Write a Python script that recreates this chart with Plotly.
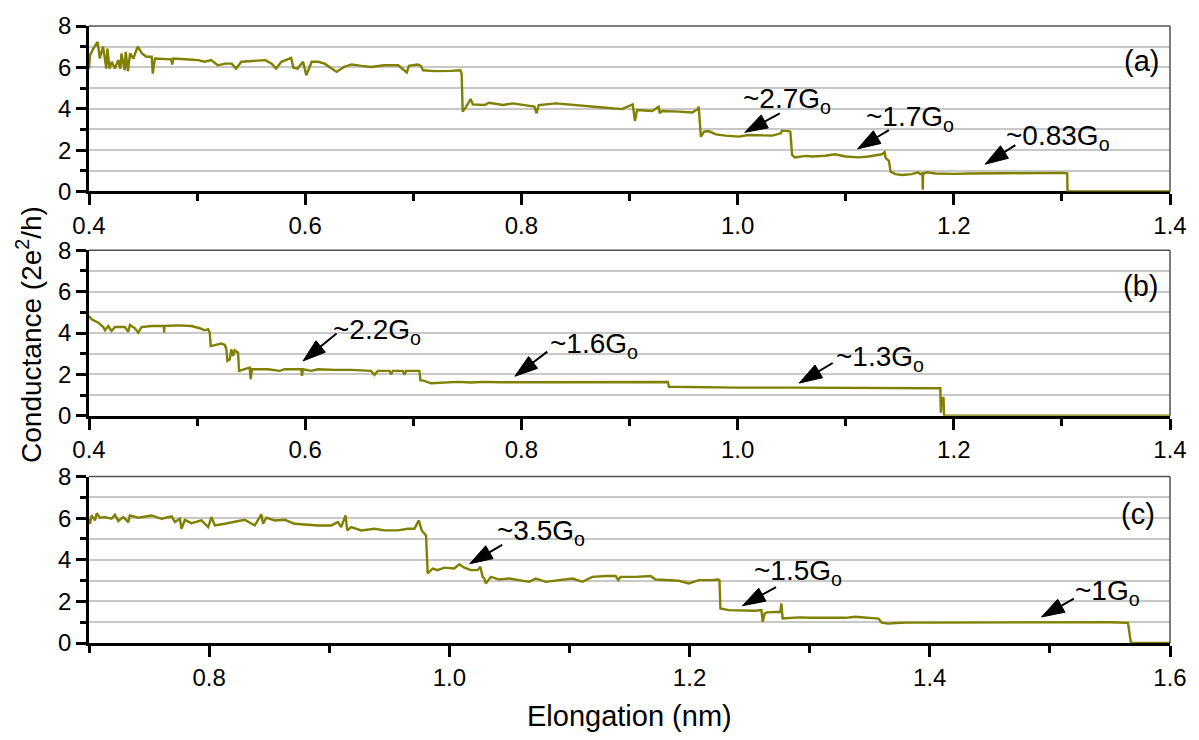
import plotly.graph_objects as go

# ---------------- data ----------------
A_x = [0.400, 0.401, 0.404, 0.408, 0.410, 0.413, 0.416, 0.417, 0.419, 0.421, 0.424, 0.427, 0.429, 0.430,
       0.433, 0.434, 0.436, 0.438, 0.441, 0.445, 0.449, 0.453, 0.458, 0.459, 0.461, 0.476, 0.477, 0.478,
       0.489, 0.501, 0.507, 0.513, 0.519, 0.526, 0.532, 0.536, 0.541, 0.550, 0.563, 0.569, 0.573, 0.578,
       0.587, 0.589, 0.593, 0.598, 0.601, 0.606, 0.612, 0.618, 0.624, 0.629, 0.636, 0.643, 0.652, 0.661,
       0.673, 0.686, 0.694, 0.696, 0.704, 0.707, 0.709, 0.720, 0.735, 0.7435, 0.7447, 0.7457, 0.749,
       0.753, 0.755, 0.766, 0.770, 0.783, 0.792, 0.804, 0.812, 0.814, 0.816, 0.832, 0.847, 0.863, 0.878,
       0.893, 0.903, 0.905, 0.907, 0.921, 0.924, 0.927, 0.928, 0.930, 0.946, 0.958, 0.963, 0.964, 0.966,
       0.969, 0.973, 0.980, 0.989, 1.001, 1.010, 1.023, 1.032, 1.040, 1.041, 1.047, 1.0488, 1.0504, 1.053,
       1.063, 1.069, 1.081, 1.090, 1.100, 1.112, 1.121, 1.127, 1.1335, 1.136, 1.137, 1.140, 1.1415, 1.146,
       1.152, 1.161, 1.167, 1.169, 1.1710, 1.1713, 1.1716, 1.175, 1.183, 1.201, 1.214, 1.244, 1.275, 1.300,
       1.3049, 1.3052, 1.400]
A_y = [5.94, 6.59, 6.91, 7.23, 6.43, 7.00, 5.94, 6.91, 5.94, 6.27, 5.94, 6.35, 5.94, 6.67,
       5.86, 6.75, 5.82, 6.67, 6.43, 7.00, 6.67, 6.51, 6.51, 5.70, 6.43, 6.39, 6.14, 6.43,
       6.39, 6.35, 6.27, 6.35, 6.10, 6.18, 6.18, 5.94, 6.27, 6.30, 6.35, 6.18, 5.94, 6.27,
       6.46, 5.98, 5.94, 6.27, 5.62, 6.27, 6.27, 6.18, 5.94, 5.78, 6.02, 6.14, 6.07, 6.02,
       6.10, 6.10, 5.75, 6.07, 6.14, 6.07, 5.86, 5.82, 5.83, 5.86, 5.70, 3.86, 4.10,
       4.47, 4.21, 4.18, 4.29, 4.18, 4.26, 4.18, 4.10, 3.78, 4.18, 4.26, 4.18, 4.10, 4.05,
       3.98, 4.21, 3.41, 3.94, 3.89, 3.98, 4.10, 3.78, 3.89, 3.86, 3.82, 3.98, 4.10, 2.65,
       2.89, 2.92, 2.76, 2.70, 2.65, 2.73, 2.73, 2.70, 2.81, 2.94, 2.92, 2.89, 1.77, 1.64,
       1.72, 1.69, 1.73, 1.80, 1.69, 1.65, 1.69, 1.74, 1.80, 1.90, 1.61, 1.48, 0.96, 0.84,
       0.80, 0.84, 0.93, 0.84, 0.88, 0.08, 0.84, 0.93, 0.87, 0.85, 0.87, 0.88, 0.90, 0.90,
       0.88, 0.00, 0.00]

B_x = [0.400, 0.4025, 0.4086, 0.4132, 0.4148, 0.4178, 0.4209, 0.4240, 0.4332, 0.4363, 0.4379, 0.4425,
       0.4455, 0.4486, 0.4579, 0.4692, 0.4695, 0.4698, 0.4825, 0.4948, 0.5025, 0.5071, 0.5102, 0.5117,
       0.5126, 0.5179, 0.5225, 0.5256, 0.5271, 0.5280, 0.5302, 0.5317, 0.5333, 0.5348, 0.5379, 0.5388,
       0.5440, 0.5486, 0.5496, 0.5508, 0.5656, 0.5764, 0.5810, 0.5964, 0.5970, 0.5979, 0.6056, 0.6118,
       0.6271, 0.6425, 0.6608, 0.6641, 0.6671, 0.6779, 0.6795, 0.6810, 0.6903, 0.6918, 0.6933, 0.7041,
       0.7056, 0.7066, 0.7102, 0.7164, 0.7287, 0.7410, 0.7533, 0.7656, 0.780, 0.820, 0.860, 0.900,
       0.9355, 0.9365, 0.960, 1.000, 1.050, 1.100, 1.150, 1.1875, 1.1880, 1.1890, 1.1905, 1.1910, 1.400]
B_y = [4.82, 4.66, 4.50, 4.29, 4.13, 4.34, 4.10, 4.29, 4.29, 4.06, 4.39, 4.23,
       4.02, 4.29, 4.34, 4.34, 4.02, 4.34, 4.37, 4.34, 4.23, 4.13, 4.18, 4.02,
       3.37, 3.45, 3.49, 3.42, 3.21, 2.65, 2.73, 3.21, 2.89, 3.17, 3.05, 2.17,
       2.25, 2.33, 1.77, 2.25, 2.25, 2.17, 2.25, 2.25, 1.93, 2.25, 2.17, 2.25,
       2.22, 2.22, 2.17, 1.98, 2.17, 2.17, 2.01, 2.17, 2.17, 1.98, 2.17, 2.20,
       2.17, 1.72, 1.69, 1.57, 1.61, 1.64, 1.61, 1.64, 1.62, 1.62, 1.63, 1.62,
       1.63, 1.40, 1.38, 1.36, 1.36, 1.35, 1.34, 1.33, 0.15, 0.85, 0.85, 0.00, 0.00]

C_x = [0.7000, 0.7008, 0.7022, 0.7050, 0.7064, 0.7091, 0.7132, 0.7188, 0.7216, 0.7244, 0.7285, 0.7327,
       0.7340, 0.7410, 0.7521, 0.7604, 0.7688, 0.7715, 0.7757, 0.7770, 0.7798, 0.7853, 0.7936, 0.7992,
       0.8020, 0.8048, 0.8130, 0.8213, 0.8296, 0.8380, 0.8435, 0.8449, 0.8477, 0.8546, 0.8630, 0.8712,
       0.8795, 0.8907, 0.9017, 0.9072, 0.9100, 0.9136, 0.9150, 0.9183, 0.9266, 0.9377, 0.9460, 0.9571,
       0.9654, 0.9709, 0.9745, 0.9770, 0.9806, 0.9820, 0.9861, 0.9903, 0.9958, 1.0041, 1.0083, 1.0125,
       1.0180, 1.0235, 1.0258, 1.0277, 1.0291, 1.0304, 1.0346, 1.0415, 1.0498, 1.0581, 1.0665, 1.0720,
       1.0803, 1.0914, 1.1025, 1.1108, 1.1191, 1.1302, 1.1385, 1.1407, 1.1426, 1.1551, 1.1676, 1.1717,
       1.1800, 1.1911, 1.1994, 1.2077, 1.2188, 1.2238, 1.2249, 1.2257, 1.2327, 1.2437, 1.2548, 1.2598,
       1.2609, 1.2626, 1.2645, 1.2756, 1.2764, 1.2775, 1.2908, 1.3019, 1.3158, 1.3296, 1.3379, 1.3435,
       1.3573, 1.3600, 1.3650, 1.3720, 1.3800, 1.4000, 1.4500, 1.5000, 1.5500, 1.5650, 1.5675, 1.6000]
C_y = [5.97, 5.73, 6.13, 5.89, 6.24, 6.02, 6.05, 5.97, 6.16, 5.86, 6.05, 5.81,
       6.13, 6.02, 6.13, 5.97, 6.08, 5.81, 5.97, 5.49, 5.92, 5.76, 5.89, 5.57,
       6.05, 5.65, 5.73, 5.81, 5.92, 5.65, 6.18, 5.73, 6.02, 5.89, 5.92, 5.73,
       5.70, 5.65, 5.65, 5.81, 5.57, 6.13, 5.41, 5.57, 5.41, 5.49, 5.41, 5.41,
       5.49, 5.49, 5.89, 5.41, 5.17, 3.34, 3.58, 3.50, 3.62, 3.58, 3.78, 3.62,
       3.50, 3.50, 3.66, 3.18, 3.10, 2.86, 3.18, 3.05, 3.10, 3.02, 2.94, 3.10,
       2.94, 3.02, 3.10, 2.94, 3.18, 3.22, 3.22, 3.02, 3.18, 3.18, 3.22, 3.05,
       3.02, 2.99, 2.86, 3.02, 3.02, 3.05, 3.02, 1.66, 1.58, 1.55, 1.55, 1.58,
       1.02, 1.42, 1.47, 1.50, 1.90, 1.18, 1.23, 1.21, 1.21, 1.21, 1.26, 1.23,
       1.17, 0.98, 0.93, 0.96, 0.98, 0.98, 0.99, 0.98, 1.00, 0.97, 0.00, 0.00]

# axis ranges and ticks
X_RANGES = [[0.4, 1.4], [0.4, 1.4], [0.7, 1.6]]
X_TICKS = [[0.4, 0.6, 0.8, 1.0, 1.2, 1.4], [0.4, 0.6, 0.8, 1.0, 1.2, 1.4], [0.8, 1.0, 1.2, 1.4, 1.6]]
X_TICK_TEXT = [["0.4", "0.6", "0.8", "1.0", "1.2", "1.4"], ["0.4", "0.6", "0.8", "1.0", "1.2", "1.4"],
               ["0.8", "1.0", "1.2", "1.4", "1.6"]]
X_MINOR = [[0.5, 0.7, 0.9, 1.1, 1.3], [0.5, 0.7, 0.9, 1.1, 1.3], [0.7, 0.9, 1.1, 1.3, 1.5]]
Y_TICKS = [0, 2, 4, 6, 8]
Y_MINOR = [1, 3, 5, 7]

PANEL_LABELS = ["(a)", "(b)", "(c)"]
PANEL_LABEL_POS = [(1.392, 6.3), (1.391, 6.26), (1.589, 6.2)]

# annotations: panel index, label, arrow head (x,y), arrow tail (x,y), text left-x / center-y
ANN_PANEL = [0, 0, 0, 1, 1, 1, 2, 2, 2]
ANN_TEXT = ["~2.7G", "~1.7G", "~0.83G", "~2.2G", "~1.6G", "~1.3G", "~3.5G", "~1.5G", "~1G"]
ANN_HEAD = [(1.0066, 2.86), (1.111, 2.06), (1.229, 1.32), (0.598, 2.65), (0.794, 1.91), (1.057, 1.58),
            (1.017, 3.81), (1.244, 1.79), (1.493, 1.25)]
ANN_TAIL = [(1.039, 3.78), (1.140, 2.97), (1.257, 2.24), (0.629, 3.98), (0.824, 3.10), (1.088, 2.55),
            (1.044, 4.72), (1.272, 2.69), (1.520, 2.13)]
ANN_TXT_POS = [(1.003, 4.42), (1.117, 3.53), (1.246, 2.60), (0.624, 4.05), (0.825, 3.40), (1.089, 2.78),
               (1.038, 5.33), (1.252, 3.41), (1.519, 2.45)]

LINE_COLOR = "#808000"
FONT = "Liberation Sans, Arial, sans-serif"
TICK_SIZE = 24
TITLE_SIZE = 29
ANN_SIZE = 28
LABEL_SIZE = 29

# ---------------- figure ----------------
fig = go.Figure()
series = [(A_x, A_y), (B_x, B_y), (C_x, C_y)]
axis_names = [("x", "y"), ("x2", "y2"), ("x3", "y3")]
for (xs, ys), (xa, ya) in zip(series, axis_names):
    fig.add_trace(go.Scatter(x=xs, y=ys, mode="lines", xaxis=xa, yaxis=ya,
                             line=dict(color=LINE_COLOR, width=2.4), showlegend=False,
                             hoverinfo="skip"))

# arrows (shaft + filled head) drawn as small two-point traces
for p, h, tl in zip(ANN_PANEL, ANN_HEAD, ANN_TAIL):
    xa, ya = axis_names[p]
    fig.add_trace(go.Scatter(x=[tl[0], h[0]], y=[tl[1], h[1]], mode="lines+markers",
                             xaxis=xa, yaxis=ya, showlegend=False, hoverinfo="skip", opacity=1,
                             line=dict(color="#000000", width=2),
                             marker=dict(symbol="arrow", angleref="previous", size=[0, 24],
                                         color="#000000", opacity=1,
                                         line=dict(width=1, color="#000000"))))

domains = [[0.7318, 1.0], [0.3683, 0.6365], [0.0, 0.2698]]
layout = dict(
    width=1199, height=740,
    margin=dict(l=89, r=26, t=24, b=97),
    paper_bgcolor="white", plot_bgcolor="white",
    font=dict(family=FONT, size=TICK_SIZE, color="black"),
    showlegend=False,
)
for i in range(3):
    sfx = "" if i == 0 else str(i + 1)
    layout["xaxis" + sfx] = dict(
        domain=[0, 1], anchor="y" + sfx, range=X_RANGES[i],
        tickmode="array", tickvals=X_TICKS[i], ticktext=X_TICK_TEXT[i],
        showline=True, linecolor="black", linewidth=2.5,
        ticks="outside", ticklen=11, tickwidth=2.5, tickcolor="black",
        showgrid=False, zeroline=False, layer="below traces",
        tickfont=dict(size=TICK_SIZE, family=FONT),
        minor=dict(tickmode="array", tickvals=X_MINOR[i], ticks="outside", ticklen=7,
                   tickwidth=2.5, tickcolor="black", showgrid=False),
    )
    layout["yaxis" + sfx] = dict(
        domain=domains[i], anchor="x" + sfx, range=[0, 8],
        tickmode="array", tickvals=Y_TICKS,
        showline=True, linecolor="black", linewidth=2.5,
        ticks="outside", ticklen=10, tickwidth=2.5, tickcolor="black",
        showgrid=True, gridcolor="#c8c8c8", gridwidth=1.5, zeroline=False,
        tickfont=dict(size=TICK_SIZE, family=FONT),
        minor=dict(tickmode="array", tickvals=Y_MINOR, ticks="outside", ticklen=6,
                   tickwidth=2.5, tickcolor="black", showgrid=True,
                   gridcolor="#c8c8c8", gridwidth=1.5),
    )
fig.update_layout(**layout)

shapes = []
annotations = []
for i in range(3):
    sfx = "" if i == 0 else str(i + 1)
    shapes.append(dict(type="line", xref="x" + sfx + " domain", yref="y" + sfx + " domain",
                       x0=0, x1=1, y0=1, y1=1, line=dict(color="#505050", width=1.5)))
    shapes.append(dict(type="line", xref="x" + sfx + " domain", yref="y" + sfx + " domain",
                       x0=1, x1=1, y0=0, y1=1, line=dict(color="#505050", width=1.5)))
    annotations.append(dict(text=PANEL_LABELS[i], x=PANEL_LABEL_POS[i][0], y=PANEL_LABEL_POS[i][1],
                            xref="x" + sfx, yref="y" + sfx, xanchor="right", yanchor="middle",
                            showarrow=False, font=dict(size=LABEL_SIZE, family=FONT, color="black")))

for p, t, tp in zip(ANN_PANEL, ANN_TEXT, ANN_TXT_POS):
    sfx = "" if p == 0 else str(p + 1)
    annotations.append(dict(text=t + "<sub>o</sub>", x=tp[0], y=tp[1],
                            xref="x" + sfx, yref="y" + sfx, xanchor="left", yanchor="middle",
                            showarrow=False, font=dict(size=ANN_SIZE, family=FONT, color="black")))

annotations.append(dict(text="Conductance (2e<sup>2</sup>/h)", xref="paper", yref="paper",
                        x=-0.056, y=0.5, textangle=-90, showarrow=False, xanchor="center",
                        yanchor="middle", font=dict(size=TITLE_SIZE - 1, family=FONT, color="black")))
annotations.append(dict(text="Elongation (nm)", xref="paper", yref="paper",
                        x=0.5, y=-0.118, showarrow=False, xanchor="center", yanchor="middle",
                        font=dict(size=TITLE_SIZE, family=FONT, color="black")))

fig.update_layout(shapes=shapes, annotations=annotations)
fig.write_html("out.html")
